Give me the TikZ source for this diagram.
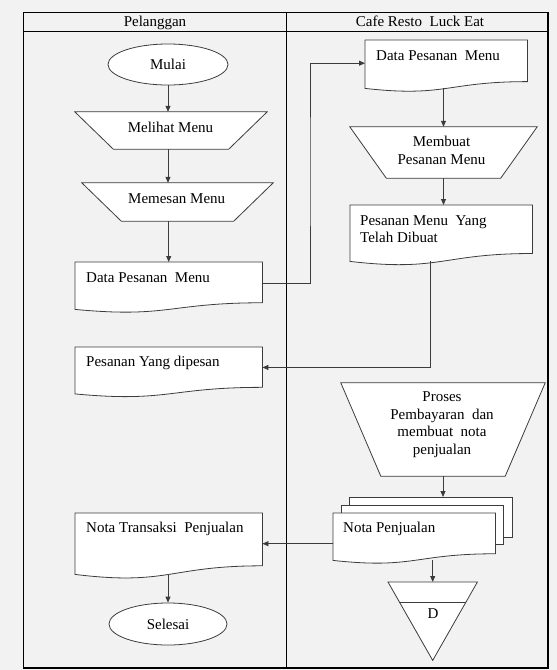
\documentclass[tikz,border=0pt]{standalone}
\usepackage{fontspec}
\setmainfont{Liberation Serif}
\usetikzlibrary{arrows.meta,calc,shapes.geometric}

\definecolor{pagegray}{HTML}{F2F2F2}
\definecolor{edgegray}{HTML}{3C3C3C}

\pgfdeclarelayer{back}
\pgfdeclarelayer{shapes}
\pgfsetlayers{back,shapes,main}

\tikzset{
  lbl/.style={font=\fontsize{15}{17.5}\selectfont, inner sep=0pt},
  boxtext/.style={lbl, anchor=north west, align=left},
  midtext/.style={lbl, align=center},
  term/.style={ellipse, draw=edgegray, fill=white, line width=0.8pt,
    inner sep=0pt, font=\fontsize{15}{17.5}\selectfont},
  holder/.style={draw=none, inner sep=0pt},
  outline/.style={draw=edgegray, fill=white, line width=0.8pt},
  sheet/.style={rectangle, draw=edgegray, fill=white, line width=0.8pt, inner sep=0pt},
  arr/.style={draw=edgegray, line width=0.8pt, -{Triangle[length=6pt,width=5pt]}},
  lane/.style={draw=black, line width=1.1pt},
}

% document symbol: box with a wavy lower edge, fitted to a holder node
\newcommand\docshape[1]{%
  \begin{pgfonlayer}{shapes}
    \path[outline] let \p1=(#1.north west), \p2=(#1.south east) in
      (\x1,\y1) -- (\x2,\y1) -- (\x2,{\y1+0.86*(\y2-\y1)})
      .. controls ({0.5*(\x1+\x2)},{\y1+0.86*(\y2-\y1)})
         and ({0.5*(\x1+\x2)},{\y1+1.187*(\y2-\y1)}) .. (\x1,\y2) -- cycle;
  \end{pgfonlayer}}

% manual operation symbol: wide top, narrow bottom
\newcommand\manualop[2]{%
  \begin{pgfonlayer}{shapes}
    \path[outline] (#1.north west) -- (#1.north east)
      -- ([xshift=-#2pt]#1.south east) -- ([xshift=#2pt]#1.south west) -- cycle;
  \end{pgfonlayer}}

\begin{document}
\begin{tikzpicture}[x=1pt,y=-1pt]
  \useasboundingbox (0,0) rectangle (557,670);

  % page and swimlanes
  \begin{pgfonlayer}{back}
    \fill[pagegray] (0,0) rectangle (557,670);
    \draw[lane] (23.5,12.7) rectangle (548,668);
    \draw[lane] (23.5,31.5) -- (548,31.5);
    \draw[lane] (286.5,12.7) -- (286.5,668);
  \end{pgfonlayer}
  \node[lbl, anchor=base] (hdrL) at (155,26) {Pelanggan};
  \node[lbl, anchor=base] (hdrR) at (420,26) {Cafe Resto\ \ Luck Eat};

  % ---- Pelanggan lane ----
  \node[term, minimum width=120pt, minimum height=41pt] (mulai) at (168,64.5) {Mulai};

  \node[holder, minimum width=192pt, minimum height=37pt] (melihat) at (171,130.5) {};
  \manualop{melihat}{38.5}
  \node[lbl, anchor=base] (melihatT) at (170.5,132.7) {Melihat Menu};

  \node[holder, minimum width=191pt, minimum height=38pt] (memesan) at (177.5,202) {};
  \manualop{memesan}{39.5}
  \node[lbl, anchor=base] (memesanT) at (176.7,203.3) {Memesan Menu};

  \node[holder, anchor=north west, minimum width=187pt, minimum height=47pt] (datal) at (75,262) {};
  \docshape{datal}
  \node[boxtext] (datalT) at (86,272) {Data Pesanan\ \ Menu};

  \node[holder, anchor=north west, minimum width=187pt, minimum height=46.5pt] (dipesan) at (75,347) {};
  \docshape{dipesan}
  \node[boxtext] (dipesanT) at (86,356) {Pesanan Yang dipesan};

  \node[holder, anchor=north west, minimum width=187pt, minimum height=61pt] (notatr) at (75,513) {};
  \docshape{notatr}
  \node[boxtext] (notatrT) at (86,522) {Nota Transaksi\ \ Penjualan};

  \node[term, minimum width=118pt, minimum height=42pt] (selesai) at (168,624) {Selesai};

  % ---- Cafe Resto Luck Eat lane ----
  \node[holder, anchor=north west, minimum width=162pt, minimum height=48pt] (datar) at (365,40) {};
  \docshape{datar}
  \node[boxtext] (datarT) at (376,50) {Data Pesanan\ \ Menu};

  \node[holder, minimum width=187pt, minimum height=51pt] (membuat) at (443.5,152.5) {};
  \manualop{membuat}{36.5}
  \node[midtext, anchor=north] (membuatT) at (441.5,136) {Membuat\\Pesanan Menu};

  \node[holder, anchor=north west, minimum width=182pt, minimum height=56pt] (telah) at (350,205) {};
  \docshape{telah}
  \node[boxtext] (telahT) at (360,215) {Pesanan Menu\ \ Yang\\Telah Dibuat};

  \node[holder, minimum width=204pt, minimum height=93pt] (proses) at (443,429.5) {};
  \manualop{proses}{40}
  \node[midtext, anchor=north] (prosesT) at (442,391.5)
    {Proses\\Pembayaran\ \ dan\\membuat\ \ nota\\penjualan};

  % stacked documents
  \begin{pgfonlayer}{shapes}
    \node[sheet, anchor=north west, minimum width=163pt, minimum height=40pt] (notab) at (349,497) {};
    \node[sheet, anchor=north west, minimum width=162pt, minimum height=39pt] (notam) at (341,505) {};
  \end{pgfonlayer}
  \node[holder, anchor=north west, minimum width=162pt, minimum height=47pt] (nota) at (333,513) {};
  \docshape{nota}
  \node[boxtext] (notaT) at (343,522) {Nota Penjualan};

  % offline storage
  \node[holder, anchor=north west, minimum width=89pt, minimum height=78pt] (merge) at (388,582) {};
  \begin{pgfonlayer}{shapes}
    \path[outline] (merge.north west) -- (merge.north east) -- (merge.south) -- cycle;
    \draw[draw=edgegray, line width=0.8pt]
      ($(merge.north west)!0.256!(merge.south)$) -- ($(merge.north east)!0.256!(merge.south)$);
  \end{pgfonlayer}
  \node[lbl] (mergeD) at (433,613.6) {D};

  % ---- connectors ----
  \draw[arr] (mulai.south) -- (mulai.south |- melihat.north);
  \draw[arr] (melihat.south -| mulai.south) -- (memesan.north -| mulai.south);
  \draw[arr] (memesan.south -| datal.north) -- (datal.north);
  \coordinate (jog) at (310,170);
  \draw[arr] ([yshift=2.5pt]datal.east) -| (jog) |- ([yshift=1pt]datar.west);
  \draw[arr] (datar.south -| membuat.north) -- (membuat.north);
  \draw[arr] (membuat.south) -- (membuat.south |- telah.north);
  \draw[arr] ([xshift=-11pt]telah.south) |- ([yshift=3pt]dipesan.east);
  \draw[arr] (proses.south) -- (proses.south |- notab.north);
  \draw[arr] (notatr.east -| nota.west) -- (notatr.east);
  \draw[arr] (nota.south -| merge.north) -- (merge.north);
  \draw[arr] (notatr.south -| selesai.north) -- (selesai.north);
\end{tikzpicture}
\end{document}
